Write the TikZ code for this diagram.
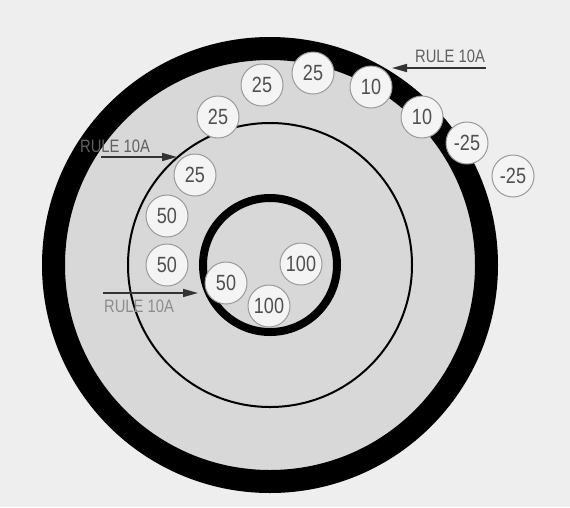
\documentclass[tikz,border=0pt]{standalone}
\usepackage{fontspec}
\setmainfont{Liberation Sans}
\newfontfamily\coinfont[FakeStretch=0.82]{Liberation Sans}
\usetikzlibrary{arrows.meta}

\definecolor{paper}{HTML}{EEEEEE}
\definecolor{board}{HTML}{D8D8D8}
\definecolor{coinfill}{HTML}{F4F4F4}
\definecolor{coinedge}{HTML}{9A9A9A}
\definecolor{coinnum}{HTML}{505050}
\definecolor{ruletext}{HTML}{606060}

\tikzset{
  coin/.style={circle, draw=coinedge, fill=coinfill, line width=1pt,
    minimum size=42pt, inner sep=0pt, text=coinnum,
    font=\coinfont\fontsize{22}{22}\selectfont},
  rulelabel/.style={inner sep=0pt, text=ruletext,
    font=\coinfont\fontsize{18}{18}\selectfont},
  rulearrow/.style={-{Triangle[length=15pt,width=8pt]}, line width=1.6pt,
    draw=black!80}
}

\begin{document}
\begin{tikzpicture}[x=1pt,y=-1pt]
\useasboundingbox (0,0) rectangle (570,507);
\fill[paper] (0,0) rectangle (570,507);

% Board
\fill[board] (270,265) circle (228pt);
\draw[line width=23pt] (270,265) circle (216.5pt);
\draw[line width=2pt] (270,265) circle (142pt);
\draw[line width=8pt] (270,265) circle (67pt);

% Coins
\node[coin] (c1) at (313,73) {25};
\node[coin] (c2) at (262,85) {25};
\node[coin] (c3) at (218,117) {25};
\node[coin] (c4) at (195,175) {25};
\node[coin] (c5) at (167,216) {50};
\node[coin] (c6) at (167,265) {50};
\node[coin] (c7) at (226,283) {50};
\node[coin] (c8) at (301,264) {100};
\node[coin] (c9) at (269,306) {100};
\node[coin] (c10) at (371,87) {10};
\node[coin] (c11) at (422,117) {10};
\node[coin] (c12) at (467,143) {-25};
\node[coin] (c13) at (513,176) {-25};

% Rule 10A arrows
\node[rulelabel] (ruleA) at (450,56) {RULE 10A};
\coordinate (ruleAs) at (486,68);
\coordinate (ruleAt) at (392,68);
\draw[rulearrow] (ruleAs) -- (ruleAt);

\node[rulelabel] (ruleB) at (115,146) {RULE 10A};
\coordinate (ruleBs) at (101,157);
\coordinate (ruleBt) at (177,157);
\draw[rulearrow] (ruleBs) -- (ruleBt);

\node[rulelabel, text=black!45] (ruleC) at (139,306) {RULE 10A};
\coordinate (ruleCs) at (103,293);
\coordinate (ruleCt) at (198,293);
\draw[rulearrow] (ruleCs) -- (ruleCt);
\end{tikzpicture}
\end{document}
